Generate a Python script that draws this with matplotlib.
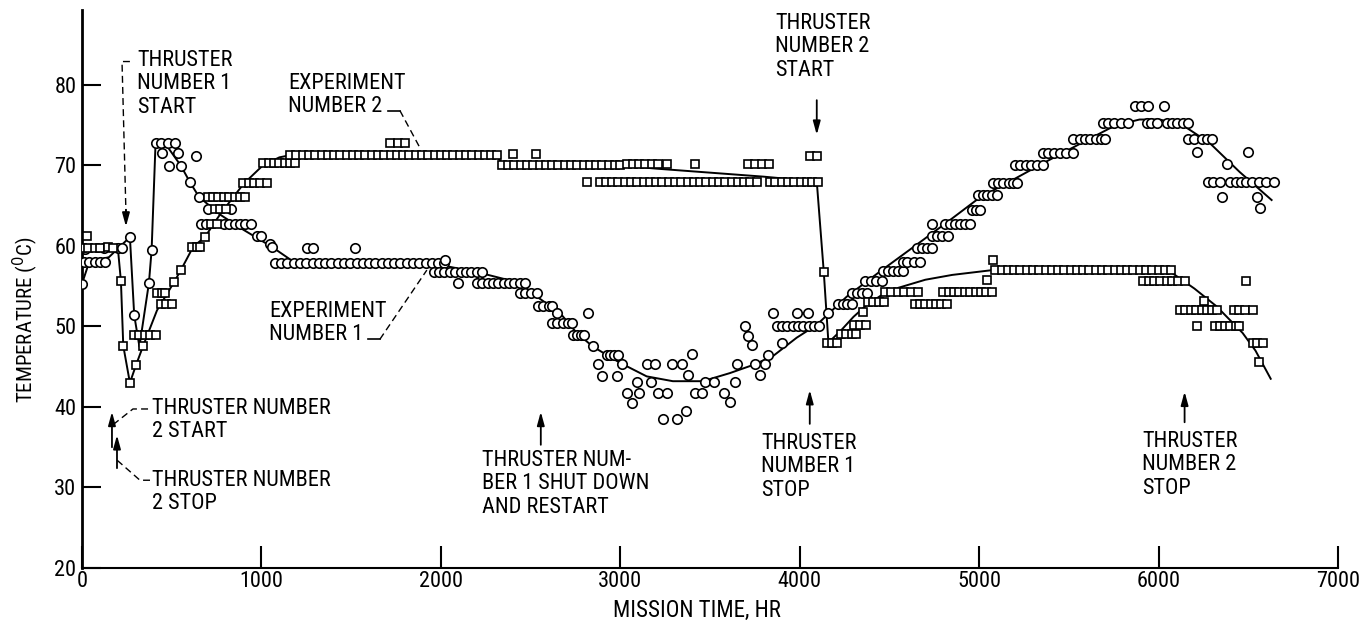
import matplotlib
matplotlib.use("Agg")
import matplotlib.pyplot as plt

plt.rcParams['font.family'] = ['Roboto Condensed', 'Roboto', 'DejaVu Sans']

# ---------------- data ----------------
x_ticks = [0, 1000, 2000, 3000, 4000, 5000, 6000, 7000]
y_ticks = [20, 30, 40, 50, 60, 70, 80]

# Experiment number 1 (circles)
exp1_hours = [
    0, 10, 40, 70, 100, 130,
    15, 120, 200, 225,
    267, 291, 373, 388,
    410, 440, 480, 520, 446, 535, 633, 485, 552, 602, 652,
    705, 830,
    665, 690, 790, 820, 850, 880, 910, 940,
    975, 1000, 1045, 1060,
    1075, 1110, 1145, 1180, 1215, 1250, 1285, 1320, 1355, 1390, 1425, 1460, 1495, 1530,
    1565, 1600, 1635, 1670, 1705, 1740, 1775, 1810, 1845, 1880, 1915, 1950, 1985, 2020,
    1253, 1290, 1521, 2022,
    1960, 1990, 2020, 2050, 2080, 2110, 2140, 2170, 2200, 2230,
    2095, 2200, 2230, 2260, 2290, 2320, 2350, 2380, 2410, 2440, 2470,
    2440, 2470, 2500, 2535,
    2540, 2570, 2600, 2620, 2645, 2820,
    2620, 2650, 2680, 2710, 2730,
    2735, 2760, 2780, 2800, 2850,
    2925, 2945, 2965, 2985,
    2875, 3008, 2900, 2980, 3147, 3192, 3287, 3343, 3402, 3376, 3092, 3170, 3036, 3103,
    3064, 3209, 3259, 3237, 3315, 3365, 3415, 3454, 3471, 3521, 3638, 3577, 3610, 3649,
    3749, 3805, 3777, 3822, 3694, 3711, 3733, 3900, 3850, 3983, 4045,
    3872, 3900, 3930, 3960, 3990, 4020, 4050, 4080, 4110, 4156,
    4212, 4240, 4265, 4290,
    4290, 4320, 4345, 4373,
    4362, 4395, 4425, 4457,
    4462, 4490, 4520, 4545, 4574,
    4574, 4600, 4635, 4669, 4735,
    4652, 4680, 4710, 4735,
    4735, 4765, 4795, 4825,
    4808, 4835, 4865, 4895, 4920, 4947,
    4958, 4980, 5003,
    4992, 5020, 5045, 5070, 5097,
    5075, 5105, 5135, 5165, 5190, 5209,
    5198, 5230, 5260, 5290, 5320, 5354,
    5354, 5385, 5415, 5450, 5485, 5521,
    5521, 5560, 5590, 5620, 5650, 5680, 5699,
    5688, 5720, 5750, 5790, 5827,
    5866, 5900, 5939, 6028,
    5933, 5960, 5989, 6045, 6075, 6105, 6135, 6162,
    6162, 6200, 6240, 6270, 6295,
    6212, 6501, 6379,
    6273, 6305, 6340, 6396, 6430, 6460, 6490, 6520, 6560, 6600, 6646,
    6351, 6546, 6568,
]
exp1_temp = [
    55.3, 58.0, 58.0, 58.0, 58.0, 58.0,
    59.6, 59.7, 59.7, 59.7,
    61.1, 51.4, 55.4, 59.5,
    72.8, 72.8, 72.8, 72.8, 71.6, 71.6, 71.2, 69.9, 69.9, 67.9, 66.1,
    64.6, 64.6,
    62.7, 62.7, 62.7, 62.7, 62.7, 62.7, 62.7, 62.7,
    61.2, 61.2, 60.2, 59.9,
    57.9, 57.9, 57.9, 57.9, 57.9, 57.9, 57.9, 57.9, 57.9, 57.9, 57.9, 57.9, 57.9, 57.9,
    57.9, 57.9, 57.9, 57.9, 57.9, 57.9, 57.9, 57.9, 57.9, 57.9, 57.9, 57.9, 57.9, 57.9,
    59.8, 59.8, 59.8, 58.3,
    56.7, 56.7, 56.7, 56.7, 56.7, 56.7, 56.7, 56.7, 56.7, 56.7,
    55.4, 55.4, 55.4, 55.4, 55.4, 55.4, 55.4, 55.4, 55.4, 55.4, 55.4,
    54.1, 54.1, 54.1, 54.1,
    52.5, 52.5, 52.5, 52.5, 51.7, 51.7,
    50.4, 50.4, 50.4, 50.4, 50.4,
    48.9, 48.9, 48.9, 48.9, 47.6,
    46.5, 46.5, 46.5, 46.5,
    45.3, 45.3, 43.8, 43.8, 45.3, 45.3, 45.3, 45.3, 46.6, 44.0, 43.1, 43.1, 41.7, 41.7,
    40.5, 41.7, 41.7, 38.5, 38.5, 39.5, 41.7, 41.7, 43.1, 43.1, 43.1, 41.7, 40.6, 45.3,
    45.3, 45.3, 44.0, 46.5, 50.1, 48.8, 47.7, 47.9, 51.7, 51.7, 51.7,
    50.0, 50.0, 50.0, 50.0, 50.0, 50.0, 50.0, 50.0, 50.0, 51.7,
    52.8, 52.8, 52.8, 52.8,
    54.2, 54.2, 54.2, 54.2,
    55.7, 55.7, 55.7, 55.7,
    56.9, 56.9, 56.9, 56.9, 56.9,
    58.0, 58.0, 58.0, 58.0, 62.7,
    59.8, 59.8, 59.8, 59.8,
    61.2, 61.2, 61.2, 61.2,
    62.7, 62.7, 62.7, 62.7, 62.7, 62.7,
    64.5, 64.5, 64.5,
    66.3, 66.3, 66.3, 66.3, 66.3,
    67.8, 67.8, 67.8, 67.8, 67.8, 67.8,
    70.1, 70.1, 70.1, 70.1, 70.1, 70.1,
    71.5, 71.5, 71.5, 71.5, 71.5, 71.5,
    73.3, 73.3, 73.3, 73.3, 73.3, 73.3, 73.3,
    75.3, 75.3, 75.3, 75.3, 75.3,
    77.4, 77.4, 77.4, 77.4,
    75.3, 75.3, 75.3, 75.3, 75.3, 75.3, 75.3, 75.3,
    73.3, 73.3, 73.3, 73.3, 73.3,
    71.7, 71.7, 70.2,
    67.9, 67.9, 67.9, 67.9, 67.9, 67.9, 67.9, 67.9, 67.9, 67.9, 67.9,
    66.1, 66.1, 64.7,
]

# Experiment number 2 (squares)
exp2_hours = [
    0, 35, 70, 100, 145, 170, 26,
    217, 230, 267, 301, 341,
    290, 320, 350, 380, 410,
    440, 470, 500, 418, 445, 462,
    513, 551, 613, 640, 657, 685,
    740, 770, 800, 720, 750,
    700, 730, 760, 790, 820, 850, 880, 908,
    897, 930, 960, 990, 1031,
    1008, 1040, 1070, 1100, 1130, 1160, 1187,
    1160, 1195, 1230, 1265, 1300, 1335, 1370, 1405, 1440, 1475, 1510, 1545, 1580, 1615,
    1650, 1685, 1720, 1755, 1790, 1825, 1860, 1895, 1930, 1965, 2000, 2035, 2070, 2105,
    2140, 2175, 2210, 2245, 2280, 2315,
    1716, 1760, 1800, 2401, 2529,
    2340, 2375, 2410, 2445, 2480, 2515, 2550, 2585, 2620, 2655, 2690, 2725, 2760, 2795,
    2830, 2865, 2900, 2935, 2970, 3000,
    3035, 3070, 3105, 3140, 3175, 3210, 3259, 3415, 3710, 3750, 3790, 3830,
    2813, 2886, 2920, 2955, 2990, 3025, 3060, 3095, 3130, 3165, 3200, 3235, 3270, 3305,
    3340, 3375, 3410, 3445, 3480, 3515, 3550, 3585, 3620, 3655, 3690, 3725, 3760,
    3833, 3865, 3900, 3935, 3970, 4005, 4040, 4070, 4100,
    4060, 4095, 4134,
    4150, 4180, 4210, 4230, 4260, 4290, 4315,
    4300, 4335, 4370, 4350,
    4380, 4410, 4440, 4470,
    4475, 4510, 4545, 4580, 4620, 4657,
    4640, 4670, 4700, 4730, 4760, 4790, 4819,
    4797, 4830, 4860, 4890, 4920, 4950, 4980, 5010, 5040, 5070,
    5042, 5075,
    5090, 5125, 5160, 5195, 5230, 5265, 5300, 5335, 5370, 5405, 5440, 5475, 5510, 5545,
    5580, 5615, 5650, 5685, 5720, 5755, 5790, 5825, 5860, 5895, 5930, 5965, 6000, 6035, 6070,
    5911, 5945, 5975, 6006, 6045, 6075, 6110, 6145, 6485,
    6251,
    6117, 6150, 6180, 6210, 6240, 6270, 6300, 6323, 6423, 6450, 6480, 6524,
    6212, 6312, 6340, 6370, 6400, 6430, 6451,
    6524, 6550, 6580, 6557,
]
exp2_temp = [
    59.7, 59.7, 59.7, 59.7, 59.9, 59.7, 61.2,
    55.6, 47.6, 43.0, 45.2, 47.6,
    48.9, 48.9, 48.9, 48.9, 48.9,
    52.8, 52.8, 52.8, 54.2, 54.2, 54.2,
    55.5, 57.0, 59.9, 59.9, 59.9, 61.1,
    64.6, 64.6, 64.6, 62.7, 62.7,
    66.1, 66.1, 66.1, 66.1, 66.1, 66.1, 66.1, 66.1,
    67.8, 67.8, 67.8, 67.8, 67.8,
    70.3, 70.3, 70.3, 70.3, 70.3, 70.3, 70.3,
    71.3, 71.3, 71.3, 71.3, 71.3, 71.3, 71.3, 71.3, 71.3, 71.3, 71.3, 71.3, 71.3, 71.3,
    71.3, 71.3, 71.3, 71.3, 71.3, 71.3, 71.3, 71.3, 71.3, 71.3, 71.3, 71.3, 71.3, 71.3,
    71.3, 71.3, 71.3, 71.3, 71.3, 71.3,
    72.8, 72.8, 72.8, 71.4, 71.4,
    70.1, 70.1, 70.1, 70.1, 70.1, 70.1, 70.1, 70.1, 70.1, 70.1, 70.1, 70.1, 70.1, 70.1,
    70.1, 70.1, 70.1, 70.1, 70.1, 70.1,
    70.2, 70.2, 70.2, 70.2, 70.2, 70.2, 70.2, 70.2, 70.2, 70.2, 70.2, 70.2,
    67.9, 67.9, 67.9, 67.9, 67.9, 67.9, 67.9, 67.9, 67.9, 67.9, 67.9, 67.9, 67.9, 67.9,
    67.9, 67.9, 67.9, 67.9, 67.9, 67.9, 67.9, 67.9, 67.9, 67.9, 67.9, 67.9, 67.9,
    67.9, 67.9, 67.9, 67.9, 67.9, 67.9, 67.9, 67.9, 67.9,
    71.2, 71.2, 56.8,
    47.9, 47.9, 47.9, 49.1, 49.1, 49.1, 49.1,
    50.2, 50.2, 50.2, 51.8,
    53.0, 53.0, 53.0, 53.0,
    54.3, 54.3, 54.3, 54.3, 54.3, 54.3,
    52.8, 52.8, 52.8, 52.8, 52.8, 52.8, 52.8,
    54.3, 54.3, 54.3, 54.3, 54.3, 54.3, 54.3, 54.3, 54.3, 54.3,
    55.8, 58.3,
    57.0, 57.0, 57.0, 57.0, 57.0, 57.0, 57.0, 57.0, 57.0, 57.0, 57.0, 57.0, 57.0, 57.0,
    57.0, 57.0, 57.0, 57.0, 57.0, 57.0, 57.0, 57.0, 57.0, 57.0, 57.0, 57.0, 57.0, 57.0, 57.0,
    55.6, 55.6, 55.6, 55.6, 55.6, 55.6, 55.6, 55.6, 55.6,
    53.1,
    52.0, 52.0, 52.0, 52.0, 52.0, 52.0, 52.0, 52.0, 52.0, 52.0, 52.0, 52.0,
    50.1, 50.1, 50.1, 50.1, 50.1, 50.1, 50.1,
    47.9, 47.9, 47.9, 45.6,
]

# faired curves
exp1_fit_hours = [0, 40, 150, 267, 291, 320, 373, 388, 410, 480, 550, 602, 652, 769, 900,
                  1057, 1168, 1250, 1500, 1940, 2228, 2440, 2535, 2663, 2757, 2847, 2997,
                  3147, 3293, 3460, 3610, 3738, 3850, 3983, 4095, 4262, 4446, 4630, 4819,
                  5003, 5187, 5376, 5521, 5727, 5822, 5894, 6006, 6134, 6284, 6451, 6630]
exp1_fit_temp = [55.3, 58.0, 58.6, 61.1, 51.4, 47.5, 55.4, 59.5, 72.8, 72.2, 70.0, 67.9, 66.1,
                 63.9, 62.0, 59.9, 58.2, 57.9, 57.9, 57.9, 56.6, 55.4, 53.7, 51.7, 49.2, 47.5,
                 45.5, 43.8, 43.2, 43.2, 44.2, 45.2, 46.3, 48.6, 50.2, 53.7, 56.8, 59.8, 62.9,
                 66.0, 68.2, 70.5, 72.2, 74.6, 75.3, 75.7, 75.7, 75.0, 72.8, 69.2, 65.7]

exp2_fit_hours = [0, 200, 217, 230, 267, 301, 341, 418, 513, 551, 620, 685, 769, 900, 1008,
                  1100, 1168, 2300, 2340, 3000, 3200, 3500, 3800, 4095, 4134, 4160, 4230,
                  4300, 4370, 4450, 4550, 4700, 4850, 5000, 5075, 6050, 6078, 6200, 6323,
                  6468, 6540, 6625]
exp2_fit_temp = [59.6, 59.7, 55.6, 47.6, 43.0, 45.2, 47.6, 52.0, 55.5, 57.0, 59.9, 61.1, 63.9,
                 67.7, 70.0, 71.0, 71.3, 71.3, 70.4, 70.0, 69.6, 69.1, 68.6, 68.0, 56.8, 48.0,
                 49.5, 51.2, 52.6, 53.8, 54.8, 55.8, 56.4, 56.8, 57.0, 57.0, 56.6, 54.7, 52.5,
                 49.2, 47.0, 43.5]

# ---------------- figure ----------------
W, H = 1360, 623
fig = plt.figure(figsize=(W / 100, H / 100), dpi=100)
ax = fig.add_axes([82 / W, 55 / H, 1256 / W, 558 / H])
ax.set_xlim(0, 7000)
ax.set_ylim(20, 89.3)

ax.plot(exp1_fit_hours, exp1_fit_temp, color='black', lw=1.4, zorder=2)
ax.plot(exp2_fit_hours, exp2_fit_temp, color='black', lw=1.4, zorder=2)
ax.plot(exp1_hours, exp1_temp, linestyle='none', marker='o', ms=6.8, mfc='white',
        mec='black', mew=1.2, zorder=3)
ax.plot(exp2_hours, exp2_temp, linestyle='none', marker='s', ms=6.3, mfc='white',
        mec='black', mew=1.2, zorder=4)

for s in ['top', 'right']:
    ax.spines[s].set_visible(False)
ax.spines['left'].set_linewidth(2)
ax.spines['bottom'].set_linewidth(1.5)

ax.set_xticks(x_ticks)
ax.set_yticks(y_ticks)
ax.set_xticklabels([str(v) for v in x_ticks])
ax.set_yticklabels([str(v) for v in y_ticks])
ax.tick_params(axis='x', direction='in', length=16, width=1.5, pad=2, labelsize=16)
ax.tick_params(axis='y', direction='in', length=14, width=1.5, pad=4, labelsize=16)

fig.text(25 / W, 1 - 320 / H, 'TEMPERATURE ($^0$C)', rotation=90, ha='center',
         va='center', fontsize=15)
fig.text(697 / W, 1 - 610 / H, 'MISSION TIME, HR', ha='center', va='center', fontsize=16.5)

fs = 16
ls = 1.15


def ftext(px, py, s):
    fig.text(px / W, 1 - py / H, s, ha='left', va='top', fontsize=fs, linespacing=ls)


ftext(137, 50, 'THRUSTER\nNUMBER 1\nSTART')
ftext(288, 73, 'EXPERIMENT\nNUMBER 2')
ftext(269, 301, 'EXPERIMENT\nNUMBER 1')
ftext(152, 398, 'THRUSTER NUMBER\n2 START')
ftext(152, 470, 'THRUSTER NUMBER\n2 STOP')
ftext(775, 13, 'THRUSTER\nNUMBER 2\nSTART')
ftext(482, 450, 'THRUSTER NUM-\nBER 1 SHUT DOWN\nAND RESTART')
ftext(761, 433, 'THRUSTER\nNUMBER 1\nSTOP')
ftext(1142, 431, 'THRUSTER\nNUMBER 2\nSTOP')

# leader lines (dashed) in data coordinates
dash = dict(color='black', lw=1.0, linestyle=(0, (5, 3)), zorder=2, clip_on=False)
ax.plot([267, 223, 245], [82.9, 82.9, 64.1], **dash)
ax.plot([1705, 1772], [76.8, 76.8], color='black', lw=1.2, clip_on=False)
ax.plot([1772, 1883], [76.8, 72.2], **dash)
ax.plot([1593, 1660], [48.4, 48.4], color='black', lw=1.2, clip_on=False)
ax.plot([1660, 1922], [48.4, 57.0], **dash)
ax.plot([368, 284, 173], [39.75, 39.75, 37.8], **dash)
ax.plot([379, 323, 195], [30.9, 30.9, 33.4], **dash)

arrow = dict(arrowstyle='-|>,head_length=0.8,head_width=0.22', color='black', lw=1.3,
             shrinkA=0, shrinkB=0)


def arr(x, y0, y1):
    ax.annotate('', xy=(x, y1), xytext=(x, y0), arrowprops=arrow, annotation_clip=False)


arr(245, 64.5, 62.4)
arr(4095, 78.1, 73.8)
arr(2557, 35.3, 39.4)
arr(4056, 37.9, 42.1)
arr(6145, 38.1, 41.9)
arr(167, 35.0, 39.4)
arr(195, 32.4, 36.5)

fig.savefig('out.png', dpi=100)
